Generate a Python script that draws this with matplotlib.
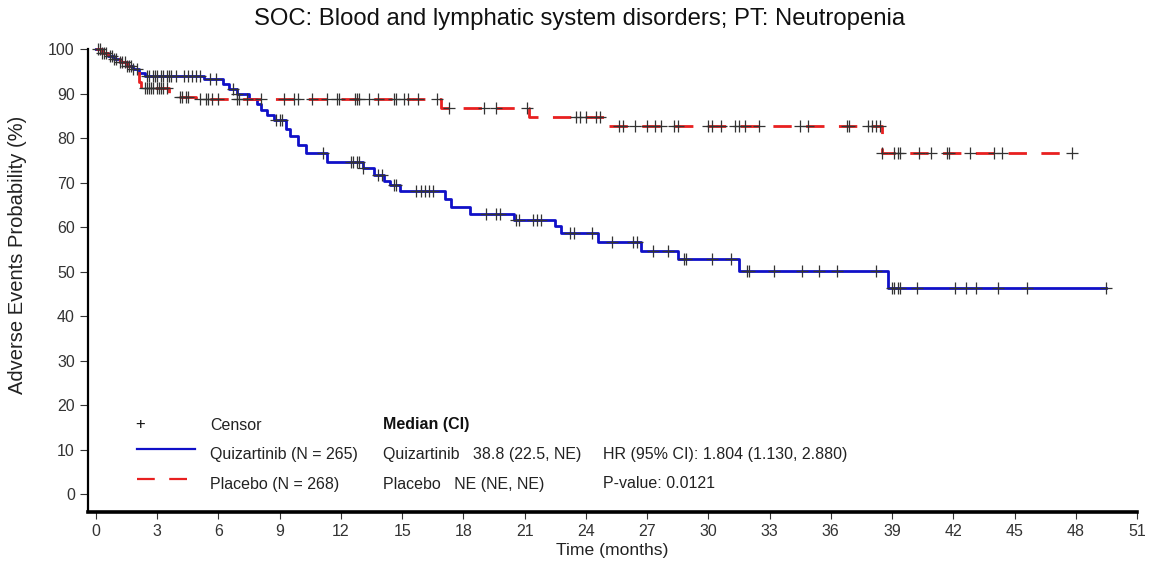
import matplotlib
matplotlib.use("Agg")
import matplotlib.pyplot as plt
import numpy as np

plt.rcParams['font.family'] = ['Liberation Sans', 'DejaVu Sans']

# ---- data ----
quiz_t = [0, 0.3, 0.6, 0.9, 1.2, 1.5, 1.8, 2.1, 2.4, 5.3, 6.2, 6.5, 6.9, 7.5, 7.9, 8.1, 8.4, 8.7,
          9.3, 9.5, 9.9, 10.3, 11.3, 13.1, 13.6, 14.1, 14.4, 14.9, 17.1, 17.4, 18.3, 20.5,
          22.5, 22.8, 24.6, 26.7, 28.5, 31.5, 38.8, 49.5]
quiz_s = [100, 99.2, 98.5, 97.7, 97.0, 96.2, 95.5, 94.7, 93.9, 93.2, 92.2, 91.0, 90.0, 88.8, 87.6,
          86.3, 85.2, 84.0, 82.0, 80.4, 78.5, 76.6, 74.5, 73.2, 71.7, 70.4, 69.4, 68.2, 66.4,
          64.6, 62.9, 61.6, 60.2, 58.6, 56.6, 54.7, 52.7, 50.2, 46.3, 46.3]
quiz_cens = [0.1, 0.3, 0.5, 0.8, 1.0, 1.2, 1.4, 1.6, 1.8, 2.0,
             2.5, 2.6, 2.8, 2.9, 3.0, 3.2, 3.3, 3.5, 3.6, 3.7, 3.9, 4.3, 4.5, 4.7, 4.9, 5.1,
             5.6, 5.9, 6.7, 6.9, 8.8, 9.0, 9.1, 11.1, 12.5, 12.6, 12.8, 12.9, 13.1, 13.8, 14.0,
             14.6, 14.7, 15.7, 15.9, 16.1, 16.3, 16.5, 19.1, 19.6, 19.8, 20.6, 20.7, 21.4, 21.6,
             21.8, 23.2, 23.4, 24.3, 25.3, 26.3, 26.5, 27.3, 28.0, 28.8, 28.9, 30.2, 31.1, 31.9,
             32.0, 33.2, 34.6, 35.4, 36.3, 38.2, 39.0, 39.1, 39.3, 39.4, 40.2, 42.1, 42.6, 43.1,
             44.2, 45.6, 49.5]

plac_t = [0, 0.3, 0.6, 0.9, 1.2, 1.5, 1.8, 2.1, 2.2, 3.6, 3.9, 4.9, 16.9, 21.2, 25.1, 38.5, 47.8]
plac_s = [100, 99.2, 98.5, 97.7, 97.0, 96.2, 95.5, 92.6, 91.2, 90.0, 89.3, 88.7, 86.8, 84.8,
          82.7, 76.7, 76.7]
plac_cens = [0.2, 0.4, 0.7, 0.9, 1.3, 1.5, 1.7,
             2.4, 2.5, 2.6, 2.7, 2.8, 3.0, 3.1, 3.2, 3.3, 3.5, 4.1, 4.2, 4.4, 4.5,
             5.1, 5.4, 5.5, 5.7, 6.0, 6.9, 7.0, 7.4, 8.1, 9.2, 9.7, 9.9, 10.6, 11.3, 11.8,
             11.9, 12.7, 12.8, 12.9, 13.4, 13.8, 14.6, 14.7, 15.1, 15.3, 15.8, 16.7,
             17.3, 19.0, 19.6, 21.1, 23.5, 23.7, 24.0, 24.5, 24.7,
             25.6, 25.8, 26.4, 27.0, 27.4, 27.7, 28.3, 28.5, 30.0, 30.2, 30.6, 31.3, 31.5,
             31.8, 32.5, 34.5, 34.9, 36.8, 36.9, 37.8, 38.0, 38.2, 38.4, 38.5,
             39.1, 39.3, 39.4, 40.3, 40.9, 41.7, 41.8, 42.8, 44.0, 44.4, 47.8]

x_ticks = list(range(0, 52, 3))
y_ticks = list(range(0, 101, 10))

title = "SOC: Blood and lymphatic system disorders; PT: Neutropenia"
xlabel = "Time (months)"
ylabel = "Adverse Events Probability (%)"


def km_value(ts, ss, t):
    idx = np.searchsorted(np.asarray(ts), t, side='right') - 1
    return np.asarray(ss)[max(idx, 0)]


W, H = 1154, 565
fig = plt.figure(figsize=(W / 100, H / 100), dpi=100)
ax = fig.add_axes([88 / W, 1 - 511.5 / H, (1137 - 88) / W, (511.5 - 49) / H])

blue = '#1010C8'
red = '#E82020'

ax.step(quiz_t, quiz_s, where='post', color=blue, lw=2.0, clip_on=False, zorder=3)
ax.step(plac_t, plac_s, where='post', color=red, lw=2.0, linestyle=(0, (6.6, 5.2)),
        clip_on=False, zorder=3)

qc = [km_value(quiz_t, quiz_s, t) for t in quiz_cens]
pc = [km_value(plac_t, plac_s, t) for t in plac_cens]
ax.plot(quiz_cens, qc, linestyle='none', marker='+', ms=8, mew=0.9, color='#333333',
        zorder=4, clip_on=False)
ax.plot(plac_cens, pc, linestyle='none', marker='+', ms=8, mew=0.9, color='#333333',
        zorder=4, clip_on=False)

ax.set_xlim(-0.39, 51.0)
ax.set_ylim(-3.93, 100)
ax.set_xticks(x_ticks)
ax.set_yticks(y_ticks)
ax.tick_params(axis='both', labelsize=11.5, colors='#333333', length=6, width=0.8)
ax.tick_params(axis='x', length=5, pad=4)
ax.spines['top'].set_visible(False)
ax.spines['right'].set_visible(False)
ax.spines['left'].set_linewidth(1.6)
ax.spines['bottom'].set_linewidth(2.6)
ax.spines['left'].set_bounds(-3.93, 100)

ax.set_xlabel(xlabel, fontsize=12.6, color='#222222', labelpad=3)
ax.set_ylabel(ylabel, fontsize=14.5, color='#222222')
ax.yaxis.set_label_coords((27 - 88) / (1137 - 88), (511.5 - 255) / (511.5 - 49))
fig.text(580 / W, 1 - 19 / H, title, ha='center', va='center', fontsize=17.2, color='#111111')

# ---- in-plot legend block ----
def fx(px):
    return px / W


def fy(py):
    return 1 - py / H


fs = 11.5
fig.text(fx(140), fy(425), '+', ha='center', va='center', fontsize=12, color='#111111')
fig.text(fx(210), fy(425), 'Censor', ha='left', va='center', fontsize=fs, color='#222222')
fig.text(fx(383), fy(425), 'Median (CI)', ha='left', va='center', fontsize=fs,
         color='#111111', fontweight='bold')
fig.add_artist(plt.Line2D([fx(137), fx(195)], [fy(449), fy(449)], color=blue, lw=1.6,
                          transform=fig.transFigure))
fig.add_artist(plt.Line2D([fx(137), fx(195)], [fy(479), fy(479)], color=red, lw=1.6,
                          linestyle=(0, (8, 6.5)), transform=fig.transFigure))
fig.text(fx(210), fy(455), 'Quizartinib (N = 265)', ha='left', va='center', fontsize=fs,
         color='#222222')
fig.text(fx(210), fy(484), 'Placebo (N = 268)', ha='left', va='center', fontsize=fs,
         color='#222222')
fig.text(fx(383), fy(455), 'Quizartinib   38.8 (22.5, NE)', ha='left', va='center',
         fontsize=fs, color='#222222')
fig.text(fx(383), fy(484), 'Placebo   NE (NE, NE)', ha='left', va='center', fontsize=fs,
         color='#222222')
fig.text(fx(603), fy(455), 'HR (95% CI): 1.804 (1.130, 2.880)', ha='left', va='center',
         fontsize=fs, color='#222222')
fig.text(fx(603), fy(484), 'P-value: 0.0121', ha='left', va='center', fontsize=fs,
         color='#222222')

fig.savefig('out.png', dpi=100)
